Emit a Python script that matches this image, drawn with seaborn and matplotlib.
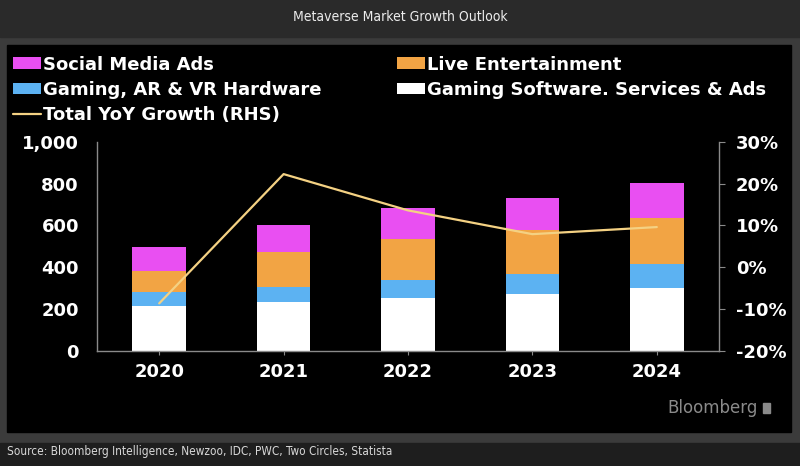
import numpy as np
import pandas as pd
import matplotlib
matplotlib.use("Agg")
import matplotlib.pyplot as plt
import seaborn as sns
from matplotlib.patches import Patch, Rectangle
from matplotlib.lines import Line2D
from matplotlib.ticker import FuncFormatter, MultipleLocator

# ---- data ----
years = ["2020", "2021", "2022", "2023", "2024"]
gaming_software = [212, 232, 252, 271, 299]
gaming_hardware = [67, 74, 85, 96, 116]
live_entertainment = [101, 166, 200, 213, 222]
social_media_ads = [117, 131, 146, 153, 166]
yoy_growth = [-8.7, 22.3, 13.6, 7.9, 9.6]

series_names = ["Gaming Software. Services & Ads", "Gaming, AR & VR Hardware",
                "Live Entertainment", "Social Media Ads"]
series_values = [gaming_software, gaming_hardware, live_entertainment, social_media_ads]
series_colors = ["#ffffff", "#5cb2f2", "#f2a444", "#e94ff2"]
line_color = "#f4d183"
line_name = "Total YoY Growth (RHS)"

sns.set_style("dark")
plt.rcParams["font.family"] = ["DejaVu Sans"]

W, H = 800, 466
fig = plt.figure(figsize=(W / 100, H / 100), dpi=100)
fig.patch.set_facecolor("#3b3b3b")

def fy(ypix):
    return 1 - ypix / H

# background panels
fig.patches.append(Rectangle((0, fy(37)), 1, 37 / H, transform=fig.transFigure,
                             color="#2a2a2a", zorder=-10))
fig.patches.append(Rectangle((7 / W, fy(432)), (791 - 7) / W, (432 - 45) / H,
                             transform=fig.transFigure, color="#000000", zorder=-10))
fig.patches.append(Rectangle((0, 0), 1, (H - 443) / H, transform=fig.transFigure,
                             color="#1e1e1e", zorder=-10))

# axes
ax = fig.add_axes([97 / W, fy(350.5), (719 - 97) / W, (350.5 - 142) / H])
ax.set_facecolor("none")

df = pd.DataFrame({"year": years})
cum = np.zeros(len(years))
cums = []
for vals in series_values:
    cum = cum + np.array(vals)
    cums.append(cum.copy())
# draw from tallest to shortest so layers stack visually
for name, c, col in reversed(list(zip(series_names, cums, series_colors))):
    df[name] = c
    sns.barplot(data=df, x="year", y=name, color=col, width=0.43, errorbar=None,
                linewidth=0, saturation=1, ax=ax, order=years)

ax.set_ylim(0, 1000)
ax.set_xlim(-0.5, len(years) - 0.5)
ax.yaxis.set_major_locator(MultipleLocator(200))
ax.yaxis.set_major_formatter(FuncFormatter(lambda v, p: f"{v:,.0f}"))
ax.set_xlabel("")
ax.set_ylabel("")

ax2 = ax.twinx()
ax2.set_facecolor("none")
sns.lineplot(x=np.arange(len(years)), y=yoy_growth, ax=ax2, color=line_color,
             linewidth=1.6)
ax2.set_ylim(-20, 30)
ax2.set_xlim(-0.5, len(years) - 0.5)
ax2.yaxis.set_major_locator(MultipleLocator(10))
ax2.yaxis.set_major_formatter(FuncFormatter(lambda v, p: f"{v:.0f}%"))
ax2.set_ylabel("")

spine_col = "#8a8a8a"
for a in (ax, ax2):
    for s in a.spines.values():
        s.set_visible(False)
    a.grid(False)
ax.spines["left"].set_visible(True)
ax.spines["bottom"].set_visible(True)
ax2.spines["right"].set_visible(True)
for s in (ax.spines["left"], ax.spines["bottom"], ax2.spines["right"]):
    s.set_color(spine_col)
    s.set_linewidth(1.0)

ax.tick_params(axis="y", length=0, pad=13, labelsize=13, labelcolor="white")
ax.tick_params(axis="x", length=3, color=spine_col, pad=6, labelsize=13,
               labelcolor="white", bottom=True)
ax2.tick_params(axis="y", length=4, color=spine_col, pad=8, labelsize=13,
                labelcolor="white", right=True)
for lab in ax.get_xticklabels() + ax.get_yticklabels() + ax2.get_yticklabels():
    lab.set_fontweight("bold")

# legends (two columns placed separately)
bars_h = {n: Patch(facecolor=c, edgecolor="none") for n, c in zip(series_names, series_colors)}
line_h = Line2D([], [], color=line_color, linewidth=1.6)
leg_kw = dict(frameon=False, handlelength=1.55, handleheight=0.62,
              handletextpad=0.12, labelspacing=0.41, borderpad=0, borderaxespad=0,
              labelcolor="white", prop={"weight": "bold", "size": 13})
leg1 = fig.legend([bars_h["Social Media Ads"], bars_h["Gaming, AR & VR Hardware"], line_h],
                  ["Social Media Ads", "Gaming, AR & VR Hardware", line_name],
                  loc="upper left", bbox_to_anchor=(13 / W, fy(55.5)), **leg_kw)
leg2 = fig.legend([bars_h["Live Entertainment"], bars_h["Gaming Software. Services & Ads"]],
                  ["Live Entertainment", "Gaming Software. Services & Ads"],
                  loc="upper left", bbox_to_anchor=(397 / W, fy(55.5)), **leg_kw)

# texts
fig.text(0.5, fy(17), "Metaverse Market Growth Outlook", ha="center", va="center",
         color="#ececec", fontsize=10, fontstretch="condensed")
fig.text(7 / W, fy(451), "Source: Bloomberg Intelligence, Newzoo, IDC, PWC, Two Circles, Statista",
         ha="left", va="center", color="#d8d8d8", fontsize=8.5, fontstretch="condensed")
fig.text(758 / W, fy(408), "Bloomberg", ha="right", va="center", color="#8a8a8a",
         fontsize=12)
fig.patches.append(Rectangle((763 / W, fy(413)), 7 / W, 10 / H, transform=fig.transFigure,
                             color="#8a8a8a", zorder=1))

fig.savefig("out.png", dpi=100, facecolor=fig.get_facecolor())
